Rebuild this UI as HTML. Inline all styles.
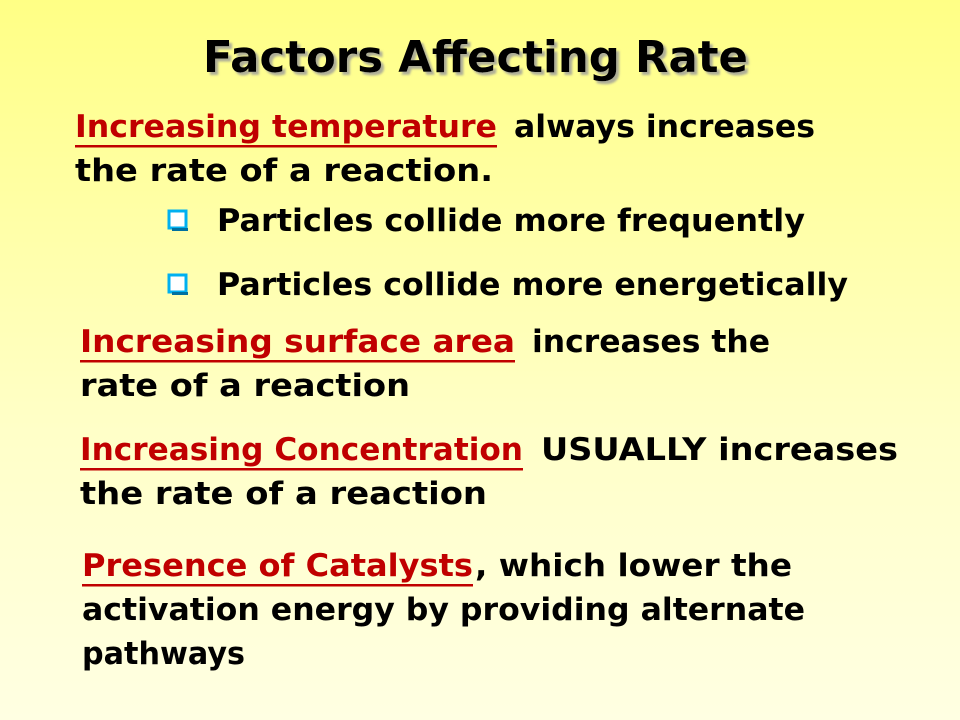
<!DOCTYPE html>
<html><head><meta charset="utf-8"><style>
html,body{margin:0;padding:0}
body{width:960px;height:720px;overflow:hidden;background:linear-gradient(#ffff85,#ffffc8 60%,#ffffe2);}
svg{display:block}
text{font-family:"DejaVu Sans","Liberation Sans",sans-serif;font-weight:bold;font-size:31px;fill:#000}
.r{fill:#c00000}
</style></head><body>
<svg width="960" height="720" viewBox="0 0 960 720">
<defs><filter id="sh" x="-5%" y="-20%" width="110%" height="140%"><feDropShadow dx="3" dy="3" stdDeviation="1" flood-color="#999" flood-opacity="0.8"/></filter></defs>
<text x="203" y="72" font-size="44" textLength="545" lengthAdjust="spacingAndGlyphs" filter="url(#sh)" style="font-size:44px">Factors Affecting Rate</text>

<text class="r" x="75" y="137" textLength="422" lengthAdjust="spacingAndGlyphs">Increasing temperature</text>
<rect x="75" y="145" width="422" height="2.5" fill="#c00000"/>
<text x="514" y="137" textLength="301" lengthAdjust="spacingAndGlyphs">always increases</text>
<text x="75" y="181" textLength="418" lengthAdjust="spacingAndGlyphs">the rate of a reaction.</text>

<rect x="169" y="211" width="17" height="17" fill="#fff" stroke="#00b0f0" stroke-width="3"/>
<rect x="172" y="228" width="16" height="3" fill="#0070a0"/>
<text x="217" y="231" textLength="588" lengthAdjust="spacingAndGlyphs">Particles collide more frequently</text>
<rect x="169" y="275" width="17" height="17" fill="#fff" stroke="#00b0f0" stroke-width="3"/>
<rect x="172" y="292" width="16" height="3" fill="#0070a0"/>
<text x="217" y="295" textLength="631" lengthAdjust="spacingAndGlyphs">Particles collide more energetically</text>

<text class="r" x="80" y="352" textLength="435" lengthAdjust="spacingAndGlyphs">Increasing surface area</text>
<rect x="80" y="360" width="435" height="2.5" fill="#c00000"/>
<text x="532" y="352" textLength="238" lengthAdjust="spacingAndGlyphs">increases the</text>
<text x="80" y="396" textLength="330" lengthAdjust="spacingAndGlyphs">rate of a reaction</text>

<text class="r" x="80" y="460" textLength="443" lengthAdjust="spacingAndGlyphs">Increasing Concentration</text>
<rect x="80" y="468" width="443" height="2.5" fill="#c00000"/>
<text x="541" y="460" textLength="357" lengthAdjust="spacingAndGlyphs">USUALLY increases</text>
<text x="80" y="504" textLength="407" lengthAdjust="spacingAndGlyphs">the rate of a reaction</text>

<text class="r" x="82" y="576" textLength="391" lengthAdjust="spacingAndGlyphs">Presence of Catalysts</text>
<rect x="82" y="584" width="391" height="2.5" fill="#c00000"/>
<text x="475" y="576" textLength="317" lengthAdjust="spacingAndGlyphs">, which lower the</text>
<text x="82" y="620" textLength="723" lengthAdjust="spacingAndGlyphs">activation energy by providing alternate</text>
<text x="82" y="664" textLength="163" lengthAdjust="spacingAndGlyphs">pathways</text>
</svg>
</body></html>
